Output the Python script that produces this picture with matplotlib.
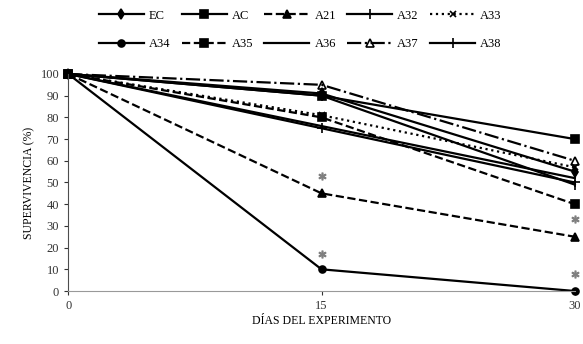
import matplotlib
matplotlib.use("Agg")
import matplotlib.pyplot as plt

plt.rcParams["font.family"] = ["Liberation Serif", "DejaVu Serif"]

# ── datos: supervivencia (%) por tratamiento ──
dias = [0, 15, 30]
grupos = ["EC", "AC", "A21", "A32", "A33", "A34", "A35", "A36", "A37", "A38"]
EC  = [100, 91, 55]
AC  = [100, 90, 70]
A21 = [100, 45, 25]
A32 = [100, 75, 50]
A33 = [100, 81, 57]
A34 = [100, 10, 0]
A35 = [100, 80, 40]
A36 = [100, 76, 52]
A37 = [100, 95, 60]
A38 = [100, 90, 49]
series = [EC, AC, A21, A32, A33, A34, A35, A36, A37, A38]

# asteriscos de diferencia significativa (día, valor)
ast_dias = [15, 15, 30, 30]
ast_vals = [53, 17, 33, 8]

estilos = [
    dict(ls="-",  marker="d", ms=5,  mfc="k"),
    dict(ls="-",  marker="s", ms=6,  mfc="k"),
    dict(ls="--", marker="^", ms=6,  mfc="k"),
    dict(ls="-",  marker="+", ms=7,  mfc="k"),
    dict(ls=":",  marker="x", ms=5,  mfc="k"),
    dict(ls="-",  marker="o", ms=5,  mfc="k"),
    dict(ls="--", marker="s", ms=6,  mfc="k"),
    dict(ls="-",  marker="",  ms=0,  mfc="k"),
    dict(ls="-.", marker="^", ms=6,  mfc="none"),
    dict(ls="-",  marker="|", ms=7,  mfc="k"),
]

fig = plt.figure(figsize=(5.83, 3.44), dpi=100)
ax = fig.add_axes([0.117, 0.154, 0.869, 0.631])

lineas = []
for nombre, vals, st in zip(grupos, series, estilos):
    l, = ax.plot(dias, vals, color="black", lw=1.6, label=nombre,
                 clip_on=False, mec="black", mew=1.2, **st)
    lineas.append(l)

ax.plot(ast_dias, ast_vals, ls="none", marker="$*$", ms=5,
        color="0.5", clip_on=False)

ax.set_xlim(0, 30)
ax.set_ylim(0, 100)
ax.set_xticks([0, 15, 30])
ax.set_yticks(range(0, 101, 10))
ax.tick_params(labelsize=9, length=3, width=0.8, colors="0.2")
for s in ["top", "right"]:
    ax.spines[s].set_visible(False)
ax.spines["left"].set_color("0.3")
ax.spines["bottom"].set_color("0.6")

ax.set_xlabel("DÍAS DEL EXPERIMENTO", fontsize=8.5, labelpad=2)
ax.set_ylabel("SUPERVIVENCIA (%)", fontsize=8.5, labelpad=4)

# leyenda en filas de 5 (matplotlib rellena por columnas)
orden = [0, 5, 1, 6, 2, 7, 3, 8, 4, 9]
fig.legend([lineas[i] for i in orden], [grupos[i] for i in orden],
           loc="upper center", bbox_to_anchor=(0.515, 1.005), ncol=5,
           frameon=False, fontsize=9, handlelength=3.6,
           columnspacing=0.9, handletextpad=0.4, labelspacing=1.35)

fig.savefig("out.png", dpi=100)
